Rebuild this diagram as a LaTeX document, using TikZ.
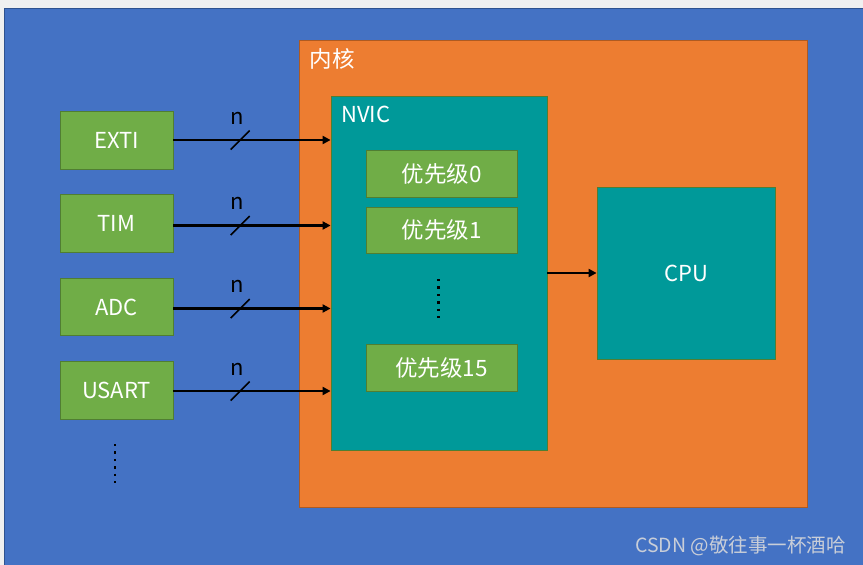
\documentclass[tikz,border=0pt]{standalone}
\usepackage{fontspec}
\setmainfont{Noto Sans CJK SC}
\usetikzlibrary{arrows.meta,calc}
\definecolor{bggray}{HTML}{F0F0F0}
\definecolor{bblue}{HTML}{4472C4}
\definecolor{bbluedark}{HTML}{2F528F}
\definecolor{borange}{HTML}{ED7D31}
\definecolor{borangedark}{HTML}{AE5A21}
\definecolor{bteal}{HTML}{009999}
\definecolor{bgreen}{HTML}{70AD47}
\definecolor{bgreendark}{HTML}{507E32}
\definecolor{wmark}{HTML}{C9CED8}
\begin{document}
\begin{tikzpicture}[x=1pt,y=-1pt,
  lbl/.style={font=\fontsize{22}{26}\selectfont, text=white},
  cjklbl/.style={font=\fontsize{22.5}{26}\selectfont, text=white},
  gbox/.style={draw=bgreendark, line width=0.8pt, fill=bgreen, inner sep=0pt, lbl},
  tbox/.style={draw=bgreendark, line width=0.8pt, fill=bteal, inner sep=0pt, lbl},
  bus/.style={line width=2.6pt, -{Triangle[length=8pt,width=8pt]}},
  slash/.style={line width=1.5pt},
  vdots/.style={line width=2.3pt, dash pattern=on 2.3pt off 5.1pt},
  nlbl/.style={font=\fontsize{22}{26}\selectfont, text=black, inner sep=0pt},
]
\useasboundingbox (0,0) rectangle (863,565);
\fill[bggray] (0,0) rectangle (863,565);
\draw[bbluedark, fill=bblue, line width=1pt] (4,8) rectangle (875,575);

% core
\node[draw=borangedark, line width=0.8pt, fill=borange, minimum width=507.5pt, minimum height=467pt, inner sep=0pt] (core) at (553.25,273.5) {};
\node[cjklbl, anchor=west, inner sep=0pt] (corelbl) at (309.5,59) {内核};

% NVIC
\node[tbox, minimum width=216pt, minimum height=354pt] (nvic) at (439,273) {};
\node[lbl, anchor=west, inner sep=0pt] (nviclbl) at (341,114) {NVIC};
\node[gbox, cjklbl, minimum width=151pt, minimum height=47pt] (p0) at (441.5,173.5) {优先级0};
\node[gbox, cjklbl, minimum width=151pt, minimum height=46pt] (p1) at (441.5,230) {优先级1};
\node[gbox, cjklbl, minimum width=151pt, minimum height=47pt] (p15) at (441.5,367.5) {优先级15};
\draw[vdots] (438.5,279) -- (438.5,321);

% CPU
\node[tbox, minimum width=178pt, minimum height=172pt] (cpu) at (686,273) {CPU};
\draw[bus] (nvic.east) -- (cpu.west);

% peripherals
\node[gbox, minimum width=113pt, minimum height=58pt] (exti) at (116.5,140) {EXTI};
\node[gbox, minimum width=113pt, minimum height=58pt] (tim) at (116.5,223.5) {TIM};
\node[gbox, minimum width=113pt, minimum height=57pt] (adc) at (116.5,307) {ADC};
\node[gbox, minimum width=113pt, minimum height=58pt] (usart) at (116.5,390) {USART};
\draw[vdots] (115,444) -- (115,487);

\foreach \p/\dy/\k in {exti/0/1, tim/2/2, adc/1.5/3, usart/1/4}{
  \draw[bus] ([yshift=-\dy pt]\p.east) -- coordinate[pos=0.425] (s\k) ([yshift=-\dy pt]\p.east -| nvic.west);
  \draw[slash] ($(s\k)+(-9.5,9.5)$) -- ($(s\k)+(9.5,-9.5)$);
  \node[nlbl] (n\k) at ($(s\k)+(-3.5,-22)$) {n};
}

% watermark
\node[font=\fontsize{19.5}{22}\selectfont, text=wmark, anchor=east, inner sep=0pt] (wm) at (846,546) {CSDN @敬往事一杯酒哈};
\end{tikzpicture}
\end{document}
